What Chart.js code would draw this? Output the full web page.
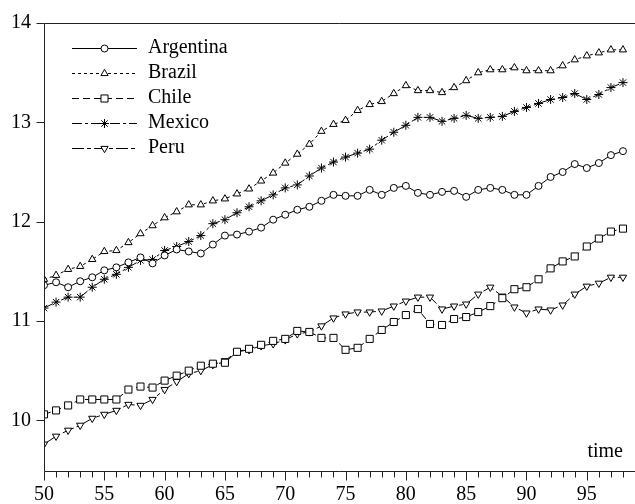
<!DOCTYPE html>
<html>
<head>
<meta charset="utf-8">
<script src="https://cdn.jsdelivr.net/npm/chart.js@4.4.1/dist/chart.umd.min.js"></script>
<style>
  html, body { margin: 0; padding: 0; background: #fff; }
  #wrap { width: 635px; height: 504px; }
</style>
</head>
<body>
<div id="wrap"><canvas id="c"></canvas></div>
<script>
// years (time axis)
const years = [50,51,52,53,54,55,56,57,58,59,60,61,62,63,64,65,66,67,68,69,70,71,72,73,74,
  75,76,77,78,79,80,81,82,83,84,85,86,87,88,89,90,91,92,93,94,95,96,97,98];
const yTicks = [10, 11, 12, 13, 14];

const argentina = [11.36,11.39,11.34,11.40,11.44,11.51,11.54,11.59,11.64,11.58,
  11.66,11.72,11.70,11.68,11.77,11.86,11.87,11.90,11.94,12.02,
  12.07,12.12,12.15,12.21,12.27,12.26,12.26,12.32,12.27,12.34,
  12.36,12.29,12.27,12.30,12.31,12.25,12.32,12.34,12.32,12.27,
  12.27,12.36,12.45,12.50,12.58,12.54,12.59,12.67,12.71];
const brazil = [11.42,11.46,11.52,11.55,11.62,11.70,11.71,11.79,11.88,11.96,
  12.04,12.10,12.17,12.17,12.21,12.23,12.28,12.33,12.41,12.49,
  12.59,12.68,12.78,12.91,12.98,13.02,13.12,13.18,13.21,13.29,
  13.37,13.32,13.32,13.30,13.35,13.42,13.50,13.53,13.53,13.55,
  13.52,13.52,13.52,13.57,13.63,13.67,13.70,13.73,13.73];
const chile = [10.06,10.10,10.15,10.21,10.21,10.21,10.21,10.31,10.34,10.33,
  10.40,10.45,10.50,10.55,10.57,10.58,10.69,10.72,10.76,10.80,
  10.82,10.90,10.89,10.83,10.83,10.71,10.73,10.82,10.91,10.99,
  11.06,11.12,10.97,10.96,11.02,11.04,11.09,11.15,11.23,11.32,
  11.34,11.42,11.53,11.60,11.65,11.75,11.83,11.90,11.93];
const mexico = [11.13,11.19,11.24,11.24,11.34,11.42,11.47,11.54,11.61,11.62,
  11.71,11.75,11.80,11.86,11.98,12.02,12.09,12.15,12.21,12.27,
  12.34,12.37,12.46,12.54,12.60,12.65,12.69,12.73,12.82,12.90,
  12.97,13.05,13.05,13.01,13.04,13.07,13.04,13.05,13.06,13.11,
  13.15,13.19,13.23,13.25,13.29,13.23,13.28,13.35,13.40];
const peru = [9.76,9.84,9.90,9.95,10.02,10.06,10.10,10.16,10.15,10.21,
  10.31,10.39,10.47,10.50,10.56,10.60,10.69,10.71,10.75,10.77,
  10.81,10.87,10.89,10.95,11.03,11.07,11.09,11.09,11.10,11.15,
  11.20,11.24,11.24,11.12,11.15,11.17,11.27,11.34,11.25,11.14,
  11.08,11.12,11.11,11.16,11.27,11.35,11.38,11.44,11.44];

const FONT = '"Liberation Serif", "Times New Roman", serif';

function series(label, values, style, radius, dash, fill, rot) {
  return {
    label: label,
    data: years.map((yr, i) => ({ x: yr, y: values[i] })),
    borderColor: '#000',
    borderWidth: 1,
    borderDash: dash,
    pointStyle: style,
    pointRadius: radius,
    pointHoverRadius: radius,
    pointRotation: rot || 0,
    pointBorderColor: '#000',
    pointBackgroundColor: fill,
    pointBorderWidth: 1,
    tension: 0
  };
}

// frame, tick marks, legend and the "time" label
const decor = {
  id: 'decor',
  afterDraw(chart) {
    const ctx = chart.ctx;
    const a = chart.chartArea;
    const xs = chart.scales.x, ys = chart.scales.y;
    ctx.save();
    ctx.strokeStyle = '#222';
    ctx.lineWidth = 1;
    ctx.setLineDash([]);
    const L = Math.round(a.left) + 0.5, T = Math.round(a.top) + 0.5, B = Math.round(a.bottom) + 0.5;
    ctx.beginPath();
    ctx.moveTo(L, B); ctx.lineTo(L, T); ctx.lineTo(chart.width, T);
    ctx.moveTo(L, B); ctx.lineTo(chart.width, B);
    yTicks.forEach(v => {
      const py = Math.round(ys.getPixelForValue(v)) + 0.5;
      ctx.moveTo(L - 8, py); ctx.lineTo(L, py);
    });
    years.forEach(v => {
      const px = Math.round(xs.getPixelForValue(v)) + 0.5;
      ctx.moveTo(px, B); ctx.lineTo(px, B + (v % 5 === 0 ? 9 : 6));
    });
    ctx.stroke();

    ctx.fillStyle = '#000';
    ctx.font = '20px ' + FONT;
    ctx.textBaseline = 'middle';
    ctx.textAlign = 'right';
    ctx.fillText('time', 623, 452);

    ctx.textAlign = 'left';
    chart.data.datasets.forEach((ds, i) => {
      const y = 48 + i * 25;
      ctx.strokeStyle = '#000';
      ctx.setLineDash(ds.borderDash || []);
      ctx.beginPath();
      ctx.moveTo(72, y + 0.5); ctx.lineTo(137, y + 0.5);
      ctx.stroke();
      ctx.setLineDash([]);
      ctx.fillStyle = ds.pointBackgroundColor;
      Chart.helpers.drawPoint(ctx, {
        pointStyle: ds.pointStyle, radius: ds.pointRadius,
        rotation: ds.pointRotation, borderWidth: 1
      }, 104.5, y + 0.5);
      ctx.fillStyle = '#000';
      ctx.fillText(ds.label, 148, y);
    });
    ctx.restore();
  }
};

new Chart(document.getElementById('c'), {
  type: 'line',
  data: {
    datasets: [
      series('Argentina', argentina, 'circle', 3.5, [], '#fff'),
      series('Brazil', brazil, 'triangle', 4.2, [3, 3], '#fff'),
      series('Chile', chile, 'rect', 5, [7, 4], '#fff'),
      series('Mexico', mexico, 'star', 4.5, [10, 3, 3, 3], '#000'),
      series('Peru', peru, 'triangle', 4.2, [12, 3, 4, 3], '#fff', 180)
    ]
  },
  options: {
    responsive: true,
    maintainAspectRatio: false,
    animation: false,
    devicePixelRatio: 1,
    layout: { padding: { top: 23, left: 0, right: 0, bottom: 0 } },
    plugins: { legend: { display: false }, tooltip: { enabled: false } },
    scales: {
      x: {
        type: 'linear',
        min: 50,
        max: 98.5,
        afterBuildTicks: s => { s.ticks = years.map(v => ({ value: v })); },
        afterFit: s => { s.height = 33; },
        grid: { display: false },
        border: { display: false },
        ticks: {
          autoSkip: false, maxRotation: 0, padding: 4, color: '#000',
          font: { family: FONT, size: 20 },
          callback: v => (v % 5 === 0 ? String(v) : '')
        }
      },
      y: {
        min: 9.49,
        max: 14,
        afterBuildTicks: s => { s.ticks = yTicks.map(v => ({ value: v })); },
        afterFit: s => { s.width = 44; },
        grid: { display: false },
        border: { display: false },
        ticks: {
          padding: 5, color: '#000',
          font: { family: FONT, size: 20 }
        }
      }
    }
  },
  plugins: [decor]
});
</script>
</body>
</html>
